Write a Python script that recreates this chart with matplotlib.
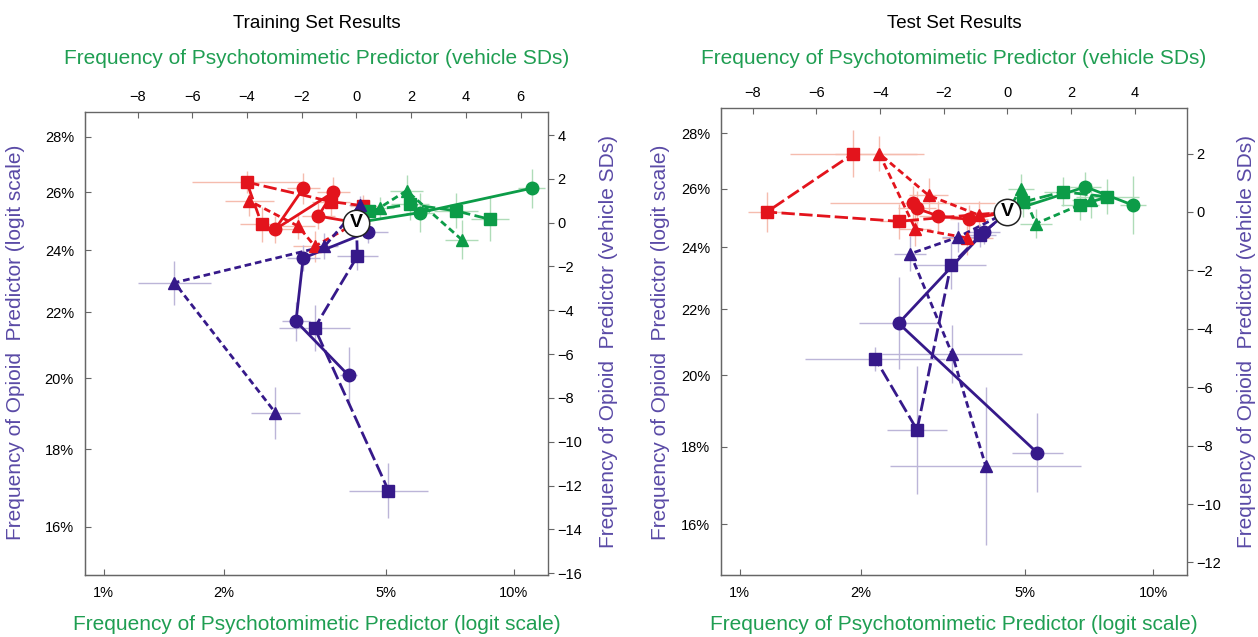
import numpy as np
import matplotlib.pyplot as plt

plt.rcParams['font.family'] = ['Liberation Sans', 'DejaVu Sans']

W, H = 1258, 637

RED, GREEN, PURPLE = '#e3141c', '#0c9c48', '#36198a'
RED_ERR, GREEN_ERR, PURPLE_ERR = '#f5bcae', '#afdcb8', '#bcb5d8'
GREEN_TXT, PURPLE_TXT = '#1f9e52', '#5a4aa6'

# vehicle point: 0 SD on both predictors
vehicle = (0.0, 0.0)

# vehicle frequencies (%) and one vehicle SD in logit units (psychotomimetic, opioid)
train_vehicle_pct = (4.24, 24.94)
train_sd_logit = (0.160, 0.0401)
test_vehicle_pct = (4.55, 25.2)
test_sd_logit = (0.1845, 0.0533)

# points in vehicle SDs, in dose order after vehicle: (x, y, x err, y err)
tr_red_circle = [(-1.40, 0.30, 0.6, 0.6), (-0.85, 1.38, 0.6, 0.7),
                 (-2.98, -0.31, 0.7, 0.6), (-1.94, 1.57, 0.6, 0.7)]
tr_red_square = [(0.25, 0.77, 0.5, 0.5), (-0.93, 0.96, 0.7, 0.7),
                 (-4.01, 1.85, 2.0, 0.5), (-3.46, -0.08, 0.8, 0.8)]
tr_red_triangle = [(-1.52, -1.08, 0.8, 0.7), (-2.13, -0.16, 0.6, 0.6),
                   (-3.92, 1.00, 0.9, 0.7)]
tr_green_circle = [(2.32, 0.46, 0.5, 0.9), (6.40, 1.57, 0.5, 0.9)]
tr_green_square = [(0.45, 0.55, 0.4, 0.5), (1.95, 0.84, 0.7, 0.7),
                   (3.63, 0.54, 0.8, 0.8), (4.88, 0.15, 0.7, 1.0)]
tr_green_triangle = [(0.86, 0.69, 0.5, 0.5), (1.83, 1.46, 0.6, 0.7),
                     (3.84, -0.77, 0.6, 0.9)]
tr_purple_circle = [(0.42, -0.43, 0.75, 0.5), (-1.95, -1.62, 0.6, 0.6),
                    (-2.21, -4.50, 0.5, 0.9), (-0.29, -6.97, 0.3, 1.3)]
tr_purple_square = [(0.03, -1.54, 0.75, 0.6), (-1.53, -4.80, 1.3, 1.05),
                    (1.17, -12.23, 1.45, 1.25)]
tr_purple_triangle = [(0.13, 0.80, 0.4, 0.4), (-1.17, -1.08, 0.5, 0.6),
                      (-6.65, -2.74, 1.35, 1.0), (-2.96, -8.68, 0.9, 1.2)]

te_red_circle = [(-1.22, -0.25, 0.6, 0.5), (-2.17, -0.14, 0.6, 0.5),
                 (-2.85, 0.12, 0.6, 0.6), (-2.98, 0.30, 2.6, 0.6)]
te_red_square = [(-3.42, -0.32, 0.6, 0.6), (-7.56, 0.00, 0.6, 0.7),
                 (-4.84, 2.00, 2.0, 0.8)]
te_red_triangle = [(-0.89, -0.11, 0.5, 0.5), (-2.48, 0.57, 0.6, 0.6),
                   (-4.03, 2.00, 1.4, 0.6), (-2.90, -0.57, 0.5, 0.6),
                   (-1.26, -0.89, 0.8, 0.6)]
te_green_circle = [(2.45, 0.86, 0.5, 0.5), (3.95, 0.23, 0.4, 1.0)]
te_green_square = [(0.48, 0.34, 0.5, 0.5), (1.75, 0.69, 0.6, 0.5),
                   (3.14, 0.52, 1.0, 0.6), (2.28, 0.23, 0.6, 0.5)]
te_green_triangle = [(0.42, 0.80, 0.4, 0.5), (0.89, -0.40, 0.5, 0.5),
                     (2.62, 0.40, 0.6, 0.6)]
te_purple_circle = [(-0.74, -0.69, 0.5, 0.4), (-3.42, -3.81, 1.25, 1.57),
                    (0.94, -8.25, 0.8, 1.35)]
te_purple_square = [(-0.85, -0.80, 0.5, 0.4), (-1.78, -1.83, 1.1, 0.8),
                    (-2.84, -7.46, 0.95, 2.2), (-4.15, -5.03, 2.2, 0.4)]
te_purple_triangle = [(-1.55, -0.86, 0.5, 0.5), (-3.05, -1.43, 0.5, 0.6),
                      (-1.74, -4.86, 2.2, 1.0), (-0.68, -8.71, 3.0, 2.7)]

pct_ticks = [1, 2, 5, 10]
pct_labels = ['1%', '2%', '5%', '10%']
opioid_ticks = [16, 18, 20, 22, 24, 26, 28]
opioid_labels = ['16%', '18%', '20%', '22%', '24%', '26%', '28%']
tr_top_ticks = [-8, -6, -4, -2, 0, 2, 4, 6]
tr_right_ticks = [-16, -14, -12, -10, -8, -6, -4, -2, 0, 2, 4]
te_top_ticks = [-8, -6, -4, -2, 0, 2, 4]
te_right_ticks = [-12, -10, -8, -6, -4, -2, 0, 2]

styles = {
    'circle': ('o', 9.0, '-'),
    'square': ('s', 8.3, (0, (4.8, 1.6))),
    'triangle': ('^', 8.8, (0, (2.4, 1.4))),
}


def logit(p):
    p = np.clip(np.asarray(p, dtype=float), 1e-9, 1 - 1e-9)
    return np.log(p / (1 - p))


def sd_to_pct(sd, v, s):
    return 100 / (1 + np.exp(-(logit(v / 100) + np.asarray(sd) * s)))


def pct_to_sd(pct, v, s):
    return (logit(np.asarray(pct) / 100) - logit(v / 100)) / s


def px(x, y):
    return x / W, 1 - y / H


fig = plt.figure(figsize=(W / 100, H / 100), dpi=100)


def panel(rect, xlim, ylim, vpct, sd, series, top_ticks, right_ticks):
    ax = fig.add_axes(rect)
    ax.set_xlim(*xlim)
    ax.set_ylim(*ylim)
    for sp in ax.spines.values():
        sp.set_color('#666666')
        sp.set_linewidth(1.0)

    for pts, color, ecolor, kind in series:
        xs = [p[0] for p in pts]
        ys = [p[1] for p in pts]
        ax.errorbar(xs, ys, xerr=[p[2] for p in pts], yerr=[p[3] for p in pts],
                    fmt='none', ecolor=ecolor, elinewidth=1.0, zorder=1)
    for pts, color, ecolor, kind in series:
        marker, ms, ls = styles[kind]
        xs = [vehicle[0]] + [p[0] for p in pts]
        ys = [vehicle[1]] + [p[1] for p in pts]
        ax.plot(xs, ys, color=color, lw=2.0, ls=ls, zorder=2)
    for pts, color, ecolor, kind in series:
        marker, ms, ls = styles[kind]
        ax.plot([p[0] for p in pts], [p[1] for p in pts], ls='none',
                marker=marker, ms=ms, color=color, mec=color, zorder=3)

    ax.plot(*vehicle, 'o', ms=19, mfc='white', mec='#222222', mew=1.1, zorder=6)
    ax.text(*vehicle, 'V', ha='center', va='center', fontsize=14,
            fontweight='bold', zorder=7)

    ax.xaxis.tick_top()
    ax.yaxis.tick_right()
    ax.set_xticks(top_ticks, [str(t).replace('-', '\u2212') for t in top_ticks])
    ax.set_yticks(right_ticks, [str(t).replace('-', '\u2212') for t in right_ticks])
    ax.tick_params(axis='x', direction='in', length=4, pad=6, labelsize=10.5,
                   color='#666666')
    ax.tick_params(axis='y', direction='out', length=4, pad=3, labelsize=10.5,
                   color='#666666')

    vx, vy = vpct
    sx, sy = sd
    secx = ax.secondary_xaxis('bottom', functions=(
        lambda s: sd_to_pct(s, vx, sx), lambda p: pct_to_sd(p, vx, sx)))
    secx.set_xticks(pct_ticks, pct_labels)
    secx.tick_params(direction='in', length=4, pad=8, labelsize=10.5,
                     color='#666666')
    secx.spines['bottom'].set_color('#666666')
    secy = ax.secondary_yaxis('left', functions=(
        lambda s: sd_to_pct(s, vy, sy), lambda p: pct_to_sd(p, vy, sy)))
    secy.set_yticks(opioid_ticks, opioid_labels)
    secy.tick_params(direction='in', length=4, pad=8, labelsize=10.5,
                     color='#666666')
    secy.spines['left'].set_color('#666666')
    return ax


train_series = [
    (tr_red_circle, RED, RED_ERR, 'circle'),
    (tr_red_square, RED, RED_ERR, 'square'),
    (tr_red_triangle, RED, RED_ERR, 'triangle'),
    (tr_green_circle, GREEN, GREEN_ERR, 'circle'),
    (tr_green_square, GREEN, GREEN_ERR, 'square'),
    (tr_green_triangle, GREEN, GREEN_ERR, 'triangle'),
    (tr_purple_circle, PURPLE, PURPLE_ERR, 'circle'),
    (tr_purple_square, PURPLE, PURPLE_ERR, 'square'),
    (tr_purple_triangle, PURPLE, PURPLE_ERR, 'triangle'),
]
test_series = [
    (te_red_circle, RED, RED_ERR, 'circle'),
    (te_red_square, RED, RED_ERR, 'square'),
    (te_red_triangle, RED, RED_ERR, 'triangle'),
    (te_green_circle, GREEN, GREEN_ERR, 'circle'),
    (te_green_square, GREEN, GREEN_ERR, 'square'),
    (te_green_triangle, GREEN, GREEN_ERR, 'triangle'),
    (te_purple_circle, PURPLE, PURPLE_ERR, 'circle'),
    (te_purple_square, PURPLE, PURPLE_ERR, 'square'),
    (te_purple_triangle, PURPLE, PURPLE_ERR, 'triangle'),
]

panel([85 / W, 62 / H, 462.5 / W, 463 / H], (-9.92, 6.98), (-16.08, 5.05),
      train_vehicle_pct, train_sd_logit, train_series, tr_top_ticks, tr_right_ticks)
panel([721.3 / W, 62 / H, 465.4 / W, 467 / H], (-8.99, 5.63), (-12.43, 3.56),
      test_vehicle_pct, test_sd_logit, test_series, te_top_ticks, te_right_ticks)

lab = dict(fontsize=15)
for cx, right_x, left_x, title in [(317, 608, 16, 'Training Set Results'),
                                   (954, 1246, 660, 'Test Set Results')]:
    fig.text(*px(cx, 23), title, ha='center', va='center', fontsize=13.5)
    fig.text(*px(cx, 58), 'Frequency of Psychotomimetic Predictor (vehicle SDs)',
             ha='center', va='center', color=GREEN_TXT, **lab)
    fig.text(*px(cx, 625), 'Frequency of Psychotomimetic Predictor (logit scale)',
             ha='center', va='center', color=GREEN_TXT, **lab)
    fig.text(*px(left_x, 342), 'Frequency of Opioid  Predictor (logit scale)',
             ha='center', va='center', rotation=90, color=PURPLE_TXT, **lab)
    fig.text(*px(right_x, 342), 'Frequency of Opioid  Predictor (vehicle SDs)',
             ha='center', va='center', rotation=90, color=PURPLE_TXT, **lab)

fig.savefig('out.png', dpi=100)
